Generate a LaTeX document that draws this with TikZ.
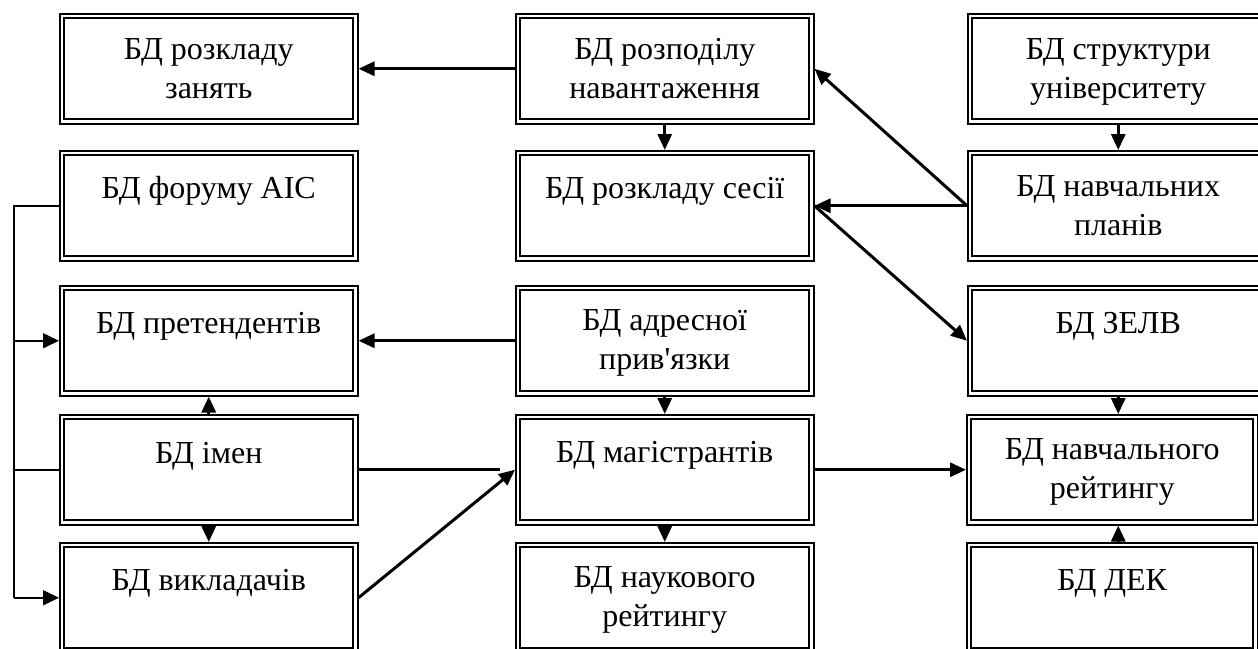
\documentclass[tikz,border=0pt]{standalone}
\usepackage{fontspec}
\setmainfont{Liberation Serif}
\usetikzlibrary{arrows.meta}
\tikzset{
  box/.style={draw, line width=1.5pt, inner sep=0pt, anchor=north west, minimum height=110pt},
  wbox/.style={box, minimum width=298pt},
  nbox/.style={box, minimum width=301pt},
  sbox/.style={box, minimum width=291pt},
  lbl/.style={align=center, anchor=base, inner sep=0pt, font=\fontsize{32}{38.5}\selectfont},
  conn/.style={line width=3pt, -{Triangle[length=16pt,width=14pt]}},
  plainconn/.style={line width=3pt},
  thinconn/.style={line width=1.6pt},
  thinarrow/.style={line width=1.6pt, -{Triangle[length=16pt,width=15pt]}},
}
\begin{document}
\begin{tikzpicture}[x=1pt,y=-1pt]
\useasboundingbox (0,0) rectangle (1258,648);
\clip (0,0) rectangle (1258,648);
% boxes
\node[wbox] (b11) at (59,13) {};
\node[wbox] (b12) at (515,13) {};
\node[nbox] (b13) at (967,13) {};
\node[wbox] (b21) at (59,150) {};
\node[wbox] (b22) at (515,150) {};
\node[nbox] (b23) at (967,150) {};
\node[wbox] (b31) at (59,285) {};
\node[wbox] (b32) at (515,285) {};
\node[nbox] (b33) at (967,285) {};
\node[wbox] (b41) at (59,414) {};
\node[wbox] (b42) at (515,414) {};
\node[sbox] (b43) at (966,414) {};
\node[wbox] (b51) at (59,542) {};
\node[wbox] (b52) at (515,542) {};
\node[sbox] (b53) at (966,542) {};
\foreach \n in {b11,b12,b13,b21,b22,b23,b31,b32,b33,b41,b42,b43,b51,b52,b53}
  \draw[line width=2.3pt] ([shift={(5.3,5.3)}]\n.north west) rectangle ([shift={(-5.3,-5.3)}]\n.south east);
% labels (two-line labels: base is the last line)
\node[lbl] (t11) at ([shift={(0,85)}]b11.north) {БД розкладу\\занять};
\node[lbl] (t12) at ([shift={(0,85)}]b12.north) {БД розподілу\\навантаження};
\node[lbl] (t13) at ([shift={(0,85)}]b13.north) {БД структури\\університету};
\node[lbl] (t21) at ([shift={(0,48)}]b21.north) {БД форуму АІС};
\node[lbl] (t22) at ([shift={(0,48)}]b22.north) {БД розкладу сесії};
\node[lbl] (t23) at ([shift={(0,85)}]b23.north) {БД навчальних\\планів};
\node[lbl] (t31) at ([shift={(0,48)}]b31.north) {БД претендентів};
\node[lbl] (t32) at ([shift={(0,84)}]b32.north) {БД адресної\\прив\textquotesingle язки};
\node[lbl] (t33) at ([shift={(0,48)}]b33.north) {БД ЗЕЛВ};
\node[lbl] (t41) at ([shift={(0,49)}]b41.north) {БД імен};
\node[lbl] (t42) at ([shift={(0,48)}]b42.north) {БД магістрантів};
\node[lbl] (t43) at ([shift={(0,84)}]b43.north) {БД навчального\\рейтингу};
\node[lbl] (t51) at ([shift={(0,48)}]b51.north) {БД викладачів};
\node[lbl] (t52) at ([shift={(0,84)}]b52.north) {БД наукового\\рейтингу};
\node[lbl] (t53) at ([shift={(0,48)}]b53.north) {БД ДЕК};
% connectors
\draw[conn] (b12.west) -- (b11.east);
\draw[conn] (b12.south) -- (b22.north);
\draw[conn] (b13.south) -- (b23.north);
\draw[conn] (b23.west) -- (b12.east);
\draw[conn] (b23.west) -- (b22.east);
\draw[conn] (b22.east) -- (b33.west);
\draw[conn] (b32.west) -- (b31.east);
\draw[conn] (b32.south) -- (b42.north);
\draw[conn] (b41.north) -- (b31.south);
\draw[conn] (b41.south) -- (b51.north);
\draw[plainconn, shorten >=15pt] (b41.east) -- (b42.west);
\draw[conn] (b51.east) -- (b42.west);
\draw[conn] (b42.east) -- (b43.west);
\draw[conn] (b42.south) -- (b52.north);
\draw[conn] (b33.south) -- (b33.south |- b43.north);
\draw[conn] (b53.north -| b33.south) -- (b43.south -| b33.south);
% bracket on the left
\coordinate (bl) at (14,0);
\draw[thinconn] (b21.west) -- (b21.west -| bl) -- (b51.west -| bl);
\draw[thinconn] (b41.west) -- (b41.west -| bl);
\draw[thinarrow] (b31.west -| bl) -- (b31.west);
\draw[thinarrow] (b51.west -| bl) -- (b51.west);
\end{tikzpicture}
\end{document}
